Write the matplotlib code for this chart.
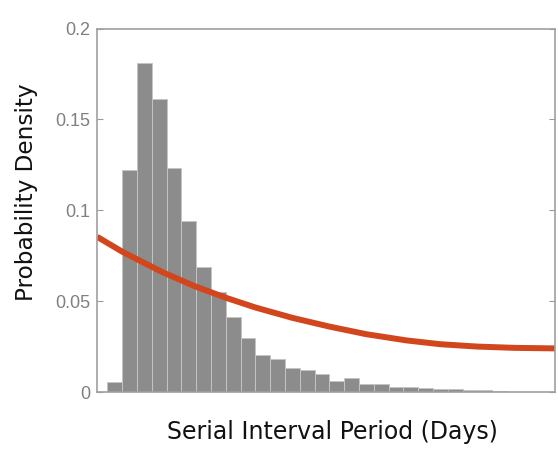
import numpy as np
import matplotlib
matplotlib.use("Agg")
import matplotlib.pyplot as plt

# histogram of serial interval (days), bar heights
days = np.arange(1, 28)
density = [0.0057, 0.122, 0.181, 0.161, 0.123, 0.094, 0.069, 0.055, 0.0415,
           0.0296, 0.0204, 0.018, 0.0134, 0.0121, 0.0099, 0.0062, 0.0079,
           0.0044, 0.0044, 0.0029, 0.0027, 0.0022, 0.0017, 0.0015, 0.0013,
           0.0010, 0.0006]

# fitted curve, sampled by eye
fit_days = [-0.2, 1.5, 4.2, 6.4, 8.6, 10.5, 13, 15.5, 18, 20.7, 23, 25.5, 28, 30.8]
fit_density = [0.0854, 0.0772, 0.0660, 0.0582, 0.0516, 0.0465, 0.0408, 0.0360,
               0.0318, 0.0284, 0.0263, 0.0250, 0.0243, 0.0240]

yticks = [0, 0.05, 0.1, 0.15, 0.2]
ytick_labels = ['0', '0.05', '0.1', '0.15', '0.2']

fig = plt.figure(figsize=(5.58, 4.49), dpi=100)
ax = fig.add_axes([0.1738, 0.1269, 0.8208, 0.8096])

ax.bar(days, density, width=1.0, color='#8c8c8c', edgecolor='#c4c4c4', linewidth=0.7)
ax.plot(fit_days, fit_density, color='#d2461d', linewidth=4.3,
        solid_capstyle='butt', solid_joinstyle='round')

ax.set_xlim(-0.21, 30.74)
ax.set_ylim(0, 0.2)
ax.set_xticks([])
ax.set_yticks(yticks)
ax.set_yticklabels(ytick_labels, family='Liberation Sans', fontsize=13, color='#808080')
ax.tick_params(axis='y', direction='in', length=4, pad=5, color='#9a9a9a',
               right=True, width=0.8)
for s in ax.spines.values():
    s.set_color('#a0a0a0')
    s.set_linewidth(1.2)

fig.text(0.595, 0.038, 'Serial Interval Period (Days)', ha='center', va='center',
         fontsize=17, family='DejaVu Sans', color='#111111')
fig.text(0.047, 0.572, 'Probability Density', ha='center', va='center',
         rotation=90, fontsize=16.7, family='DejaVu Sans', color='#111111')

fig.savefig('out.png', dpi=100)
